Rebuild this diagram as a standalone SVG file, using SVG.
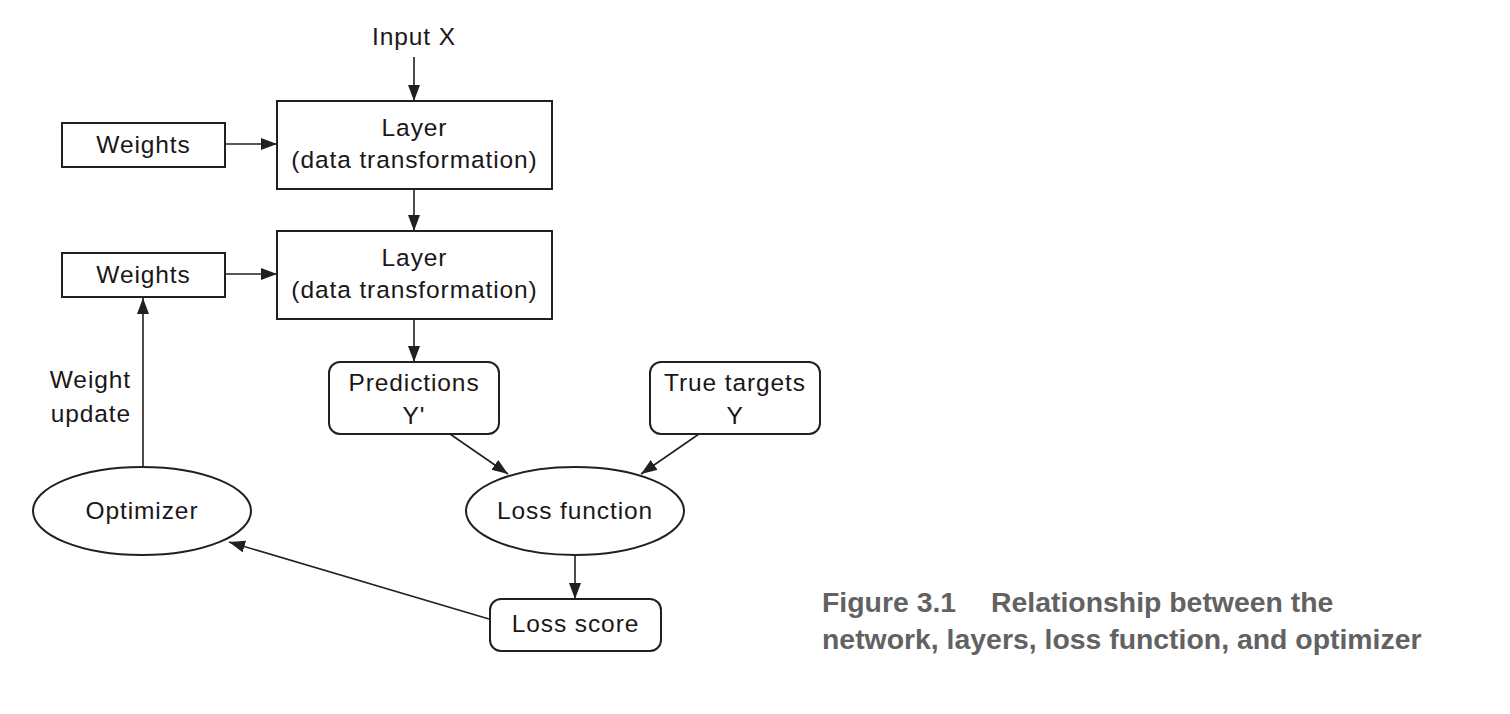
<svg xmlns="http://www.w3.org/2000/svg" width="1510" height="714" viewBox="0 0 1510 714">
<style>
.box{fill:#fff;stroke:#231f20;stroke-width:2}
.t{font-family:"Liberation Sans",Arial,sans-serif;font-size:24.5px;letter-spacing:0.9px;fill:#1a1718;text-anchor:middle}
.c{stroke:#231f20;stroke-width:1.6;fill:none;marker-end:url(#ah)}
.cap{font-family:"Liberation Sans",Arial,sans-serif;font-weight:bold;font-size:28.4px;fill:#626262}
</style>
<defs>
<marker id="ah" markerUnits="userSpaceOnUse" markerWidth="17" markerHeight="13" refX="16" refY="6" orient="auto">
<path d="M0,0 L16,6 L0,12 z" fill="#231f20"/>
</marker>
</defs>
<rect width="1510" height="714" fill="#fff"/>
<g id="connectors">
<line class="c" x1="414" y1="57" x2="414" y2="101"/>
<line class="c" x1="225" y1="144" x2="277" y2="144"/>
<line class="c" x1="414" y1="189" x2="414" y2="231"/>
<line class="c" x1="225" y1="274" x2="277" y2="274"/>
<line class="c" x1="414" y1="319" x2="414" y2="362"/>
<line class="c" x1="450" y1="434" x2="508" y2="474"/>
<line class="c" x1="699" y1="434" x2="641" y2="474"/>
<line class="c" x1="575" y1="555" x2="575" y2="599"/>
<line class="c" x1="489" y1="619" x2="229" y2="542"/>
<line class="c" x1="143" y1="467" x2="143" y2="298"/>
</g>
<g id="input"><text class="t" x="414" y="45">Input X</text></g>
<g id="weights1"><rect class="box" x="62" y="123" width="163" height="44"/><text class="t" x="143.5" y="153">Weights</text></g>
<g id="layer1"><rect class="box" x="277" y="101" width="275" height="88"/><text class="t" x="414.5" y="136">Layer</text><text class="t" x="414.5" y="168">(data transformation)</text></g>
<g id="weights2"><rect class="box" x="62" y="253" width="163" height="44"/><text class="t" x="143.5" y="283">Weights</text></g>
<g id="layer2"><rect class="box" x="277" y="231" width="275" height="88"/><text class="t" x="414.5" y="266">Layer</text><text class="t" x="414.5" y="298">(data transformation)</text></g>
<g id="weightupdate"><text class="t" x="131" y="388" style="text-anchor:end">Weight</text><text class="t" x="131" y="422" style="text-anchor:end">update</text></g>
<g id="predictions"><rect class="box" x="329" y="362" width="170" height="72" rx="11"/><text class="t" x="414" y="391">Predictions</text><text class="t" x="414" y="424">Y'</text></g>
<g id="truetargets"><rect class="box" x="650" y="362" width="170" height="72" rx="11"/><text class="t" x="735" y="391">True targets</text><text class="t" x="735" y="424">Y</text></g>
<g id="optimizer"><ellipse class="box" cx="142" cy="511" rx="109" ry="44"/><text class="t" x="142" y="519">Optimizer</text></g>
<g id="lossfunction"><ellipse class="box" cx="575" cy="511" rx="109" ry="44"/><text class="t" x="575" y="519">Loss function</text></g>
<g id="lossscore"><rect class="box" x="490" y="599" width="171" height="52" rx="11"/><text class="t" x="575.5" y="632">Loss score</text></g>
<g id="caption">
<text class="cap" x="822" y="612">Figure 3.1</text>
<text class="cap" x="991" y="612">Relationship between the</text>
<text class="cap" x="822" y="649">network, layers, loss function, and optimizer</text>
</g>
</svg>
